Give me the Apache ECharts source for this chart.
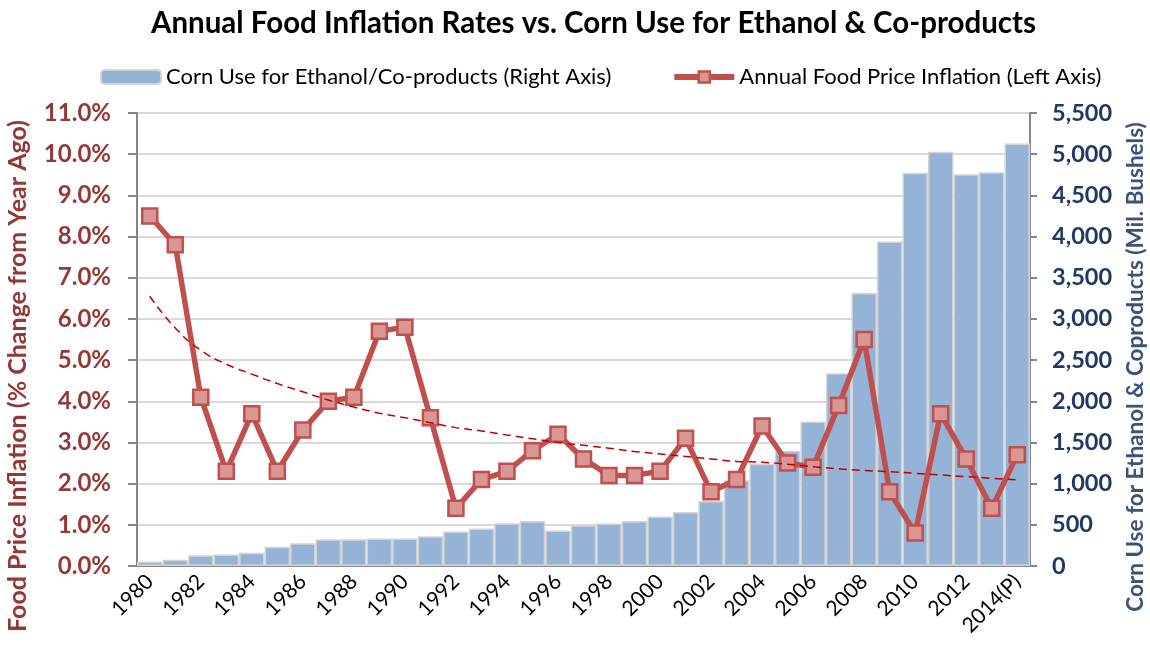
<!DOCTYPE html>
<html>
<head>
<meta charset="utf-8">
<script src="https://cdn.jsdelivr.net/npm/echarts@6/dist/echarts.min.js"></script>
<style>
  html, body { margin: 0; padding: 0; background: #ffffff; }
  #chart { width: 1150px; height: 650px; }
</style>
</head>
<body>
<div id="chart"></div>
<script>
const years = [
  '1980', '1981', '1982', '1983', '1984', '1985', '1986', '1987', '1988', '1989',
  '1990', '1991', '1992', '1993', '1994', '1995', '1996', '1997', '1998', '1999',
  '2000', '2001', '2002', '2003', '2004', '2005', '2006', '2007', '2008', '2009',
  '2010', '2011', '2012', '2013', '2014(P)'
];

// corn use for ethanol & co-products, million bushels (right axis)
const cornUse = [
  55, 75, 130, 140, 160, 235, 275, 325, 325, 335,
  335, 360, 420, 455, 520, 545, 430, 495, 515, 545,
  600, 655, 790, 1040, 1240, 1400, 1755, 2340, 3315, 3940,
  4775, 5030, 4755, 4780, 5130
];

// annual food price inflation, % (left axis)
const foodInflation = [
  8.5, 7.8, 4.1, 2.3, 3.7, 2.3, 3.3, 4.0, 4.1, 5.7,
  5.8, 3.6, 1.4, 2.1, 2.3, 2.8, 3.2, 2.6, 2.2, 2.2,
  2.3, 3.1, 1.8, 2.1, 3.4, 2.5, 2.4, 3.9, 5.5, 1.8,
  0.8, 3.7, 2.6, 1.4, 2.7
];

// dashed trend line, %
const trend = [
  6.55, 5.78, 5.24, 4.90, 4.66, 4.43, 4.23, 4.03, 3.86, 3.71,
  3.60, 3.48, 3.36, 3.28, 3.18, 3.09, 3.00, 2.93, 2.86, 2.78,
  2.72, 2.66, 2.60, 2.54, 2.52, 2.47, 2.41, 2.36, 2.32, 2.29,
  2.25, 2.21, 2.17, 2.13, 2.09
];

const FONT = 'Lato';
const RED = '#953735';
const NAVY = '#1f3864';
const BAR_NAME = 'Corn Use for Ethanol/Co-products (Right Axis)';
const LINE_NAME = 'Annual Food Price Inflation (Left Axis)';

const chart = echarts.init(document.getElementById('chart'));

const option = {
  backgroundColor: '#ffffff',
  animation: false,
  textStyle: { fontFamily: FONT },
  title: {
    text: 'Annual Food Inflation Rates vs. Corn Use for Ethanol & Co-products',
    left: 146,
    top: 3,
    textStyle: { fontFamily: FONT, fontSize: 29.5, fontWeight: 'bold', color: '#000000' }
  },
  legend: {
    top: 61,
    left: 95,
    itemGap: 60,
    itemWidth: 60,
    itemHeight: 14,
    textStyle: { fontFamily: FONT, fontSize: 22, color: '#000000' },
    data: [
      { name: BAR_NAME },
      {
        name: LINE_NAME,
        lineStyle: { width: 6 },
        itemStyle: { borderWidth: 2.5 }
      }
    ]
  },
  grid: {
    left: 137,
    right: 120,
    top: 113,
    bottom: 84
  },
  xAxis: {
    type: 'category',
    data: years,
    boundaryGap: true,
    axisLine: { lineStyle: { color: '#868686', width: 2 } },
    axisTick: { interval: 0, length: 7, lineStyle: { color: '#868686', width: 2 } },
    axisLabel: {
      interval: 1,
      rotate: 45,
      margin: 12,
      fontFamily: FONT,
      fontSize: 21,
      color: '#000000'
    }
  },
  yAxis: [
    {
      type: 'value',
      min: 0,
      max: 11,
      interval: 1,
      position: 'left',
      axisLine: { show: true, lineStyle: { color: '#868686', width: 2 } },
      axisTick: { show: true, length: 9, lineStyle: { color: '#868686', width: 2 } },
      axisLabel: {
        margin: 26,
        fontFamily: FONT,
        fontSize: 24,
        fontWeight: 'bold',
        color: RED,
        formatter: v => v.toFixed(1) + '%'
      },
      splitLine: { lineStyle: { color: '#d9d9d9', width: 2 } }
    },
    {
      type: 'value',
      min: 0,
      max: 5500,
      interval: 500,
      position: 'right',
      axisLine: { show: true, lineStyle: { color: '#868686', width: 2 } },
      axisTick: { show: true, length: 7, lineStyle: { color: '#868686', width: 2 } },
      axisLabel: {
        margin: 22,
        fontFamily: FONT,
        fontSize: 23.5,
        fontWeight: 'bold',
        color: NAVY,
        formatter: v => v.toLocaleString('en-US')
      },
      splitLine: { show: false }
    }
  ],
  graphic: [
    {
      type: 'text',
      x: 18,
      y: 376,
      rotation: Math.PI / 2,
      style: {
        text: 'Food Price Inflation (% Change from Year Ago)',
        fontFamily: FONT,
        fontSize: 25,
        fontWeight: 'bold',
        fill: RED,
        align: 'center',
        verticalAlign: 'middle'
      }
    },
    {
      type: 'text',
      x: 1136,
      y: 367,
      rotation: Math.PI / 2,
      style: {
        text: 'Corn Use for Ethanol & Coproducts (Mil. Bushels)',
        fontFamily: FONT,
        fontSize: 22.5,
        fontWeight: 'bold',
        fill: '#3b5378',
        align: 'center',
        verticalAlign: 'middle'
      }
    }
  ],
  series: [
    {
      name: BAR_NAME,
      type: 'bar',
      yAxisIndex: 1,
      data: cornUse,
      barCategoryGap: '0%',
      itemStyle: {
        color: '#95b3d7',
        borderColor: '#d4d4d4',
        borderWidth: 1.5
      },
      z: 1
    },
    {
      name: LINE_NAME,
      type: 'line',
      yAxisIndex: 0,
      data: foodInflation,
      symbol: 'rect',
      symbolSize: 15,
      lineStyle: { color: '#c0504d', width: 5.5 },
      itemStyle: { color: '#d99694', borderColor: '#c0504d', borderWidth: 2.5 },
      z: 3
    },
    {
      name: 'Trend',
      type: 'line',
      yAxisIndex: 0,
      data: trend,
      symbol: 'none',
      smooth: true,
      lineStyle: { color: '#c00000', width: 1.5, type: [8, 5] },
      z: 4,
      silent: true
    }
  ]
};

chart.setOption(option);
</script>
</body>
</html>
